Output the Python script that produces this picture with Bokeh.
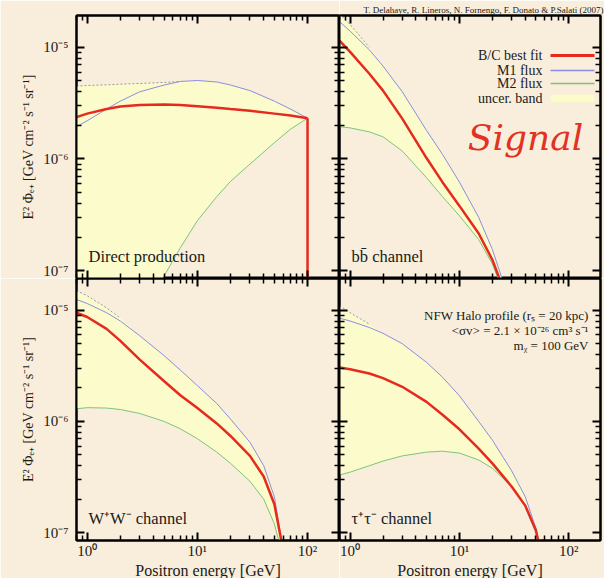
import numpy as np
from bokeh.plotting import figure
from bokeh.layouts import gridplot
from bokeh.models import LogAxis, FixedTicker, Label, BoxAnnotation, Range1d
from bokeh.embed import file_html
from bokeh.resources import INLINE

# ---------------- data ----------------
X_RANGE = (0.8, 195.0)
Y_RANGE = (8.5e-8, 1.93e-5)

x_major = [1, 10, 100]
x_minor = [0.8, 0.9, 2, 3, 4, 5, 6, 7, 8, 9, 20, 30, 40, 50, 60, 70, 80, 90]
x_tick_labels = {1: "10⁰", 10: "10¹", 100: "10²"}
y_major = [1e-7, 1e-6, 1e-5]
y_minor = [2e-7, 3e-7, 4e-7, 5e-7, 6e-7, 7e-7, 8e-7, 9e-7,
           2e-6, 3e-6, 4e-6, 5e-6, 6e-6, 7e-6, 8e-6, 9e-6]
y_tick_labels = {1e-7: "10⁻⁷", 1e-6: "10⁻⁶", 1e-5: "10⁻⁵"}

nan = float("nan")

# Direct production
dp_E = [0.8, 1, 1.5, 2, 3, 5, 7, 10, 15, 20, 30, 50, 70, 100]
dp_bc = [2.37e-6, 2.55e-6, 2.8e-6, 2.95e-6, 3.05e-6, 3.08e-6, 3.05e-6, 2.97e-6, 2.88e-6, 2.8e-6, 2.7e-6, 2.55e-6, 2.45e-6, 2.32e-6]
dp_m1 = [1.95e-6, 2.2e-6, 2.8e-6, 3.3e-6, 4.0e-6, 4.6e-6, 4.95e-6, 5.05e-6, 4.9e-6, 4.6e-6, 4.1e-6, 3.3e-6, 2.8e-6, 2.32e-6]
dp_m2 = [1e-9, 2e-9, 5e-9, 1e-8, 3e-8, 9e-8, 1.6e-7, 2.8e-7, 4.6e-7, 6.3e-7, 9e-7, 1.4e-6, 1.85e-6, 2.32e-6]
dp_up = [4.5e-6, 4.55e-6, 4.62e-6, 4.68e-6, 4.75e-6, 4.85e-6, 4.95e-6, nan, nan, nan, nan, nan, nan, nan]

# b bbar channel
bb_E = [0.8, 1, 1.5, 2, 3, 5, 7, 10, 15, 20, 25, 30]
bb_bc = [1.15e-5, 9.1e-6, 5.8e-6, 4.1e-6, 2.3e-6, 1.02e-6, 6.2e-7, 3.8e-7, 2.15e-7, 1.25e-7, 7e-8, 3.5e-8]
bb_m1 = [1.7e-5, 1.4e-5, 9.5e-6, 6.8e-6, 4.0e-6, 1.8e-6, 1.1e-6, 6.2e-7, 3.0e-7, 1.55e-7, 8e-8, 3.8e-8]
bb_m2 = [1.95e-6, 1.9e-6, 1.75e-6, 1.58e-6, 1.18e-6, 6.8e-7, 4.6e-7, 3.1e-7, 1.9e-7, 1.15e-7, 6.5e-8, 3.2e-8]
bb_up = [2.0e-5, 1.6e-5, 1.0e-5, nan, nan, nan, nan, nan, nan, nan, nan, nan]

# W+W- channel
ww_E = [0.8, 1, 1.5, 2, 3, 5, 7, 10, 15, 20, 30, 40, 50, 60]
ww_bc = [9.5e-6, 8.7e-6, 6.8e-6, 5.3e-6, 3.6e-6, 2.3e-6, 1.72e-6, 1.32e-6, 9.6e-7, 7.4e-7, 4.9e-7, 3.2e-7, 1.8e-7, 7e-8]
ww_m1 = [1.25e-5, 1.15e-5, 9.5e-6, 8.0e-6, 5.9e-6, 3.9e-6, 2.9e-6, 2.1e-6, 1.45e-6, 1.05e-6, 6.5e-7, 4e-7, 2.1e-7, 7e-8]
ww_m2 = [1.3e-6, 1.33e-6, 1.32e-6, 1.28e-6, 1.18e-6, 1.0e-6, 8.6e-7, 7e-7, 5.3e-7, 4.2e-7, 2.9e-7, 2.0e-7, 1.2e-7, 6e-8]
ww_up = [1.5e-5, 1.35e-5, 1.05e-5, 8.5e-6, nan, nan, nan, nan, nan, nan, nan, nan, nan, nan]

# tau+tau- channel
tt_E = [0.8, 1, 1.5, 2, 3, 5, 7, 10, 15, 20, 30, 40, 50, 55]
tt_bc = [3.05e-6, 2.95e-6, 2.7e-6, 2.45e-6, 2.05e-6, 1.5e-6, 1.15e-6, 8.5e-7, 5.7e-7, 4.2e-7, 2.6e-7, 1.75e-7, 1.05e-7, 7e-8]
tt_m1 = [8.5e-6, 8.0e-6, 7.0e-6, 6.2e-6, 5.0e-6, 3.4e-6, 2.5e-6, 1.7e-6, 1.0e-6, 6.8e-7, 3.6e-7, 2.1e-7, 1.1e-7, 7e-8]
tt_m2 = [3.3e-7, 3.5e-7, 4.0e-7, 4.4e-7, 4.9e-7, 5.3e-7, 5.4e-7, 5.2e-7, 4.5e-7, 3.8e-7, 2.6e-7, 1.7e-7, 1.0e-7, 6.5e-8]
tt_up = [1.1e-5, 9.5e-6, 7.5e-6, nan, nan, nan, nan, nan, nan, nan, nan, nan, nan, nan]

panel_titles = ["Direct production", "bb\u0304 channel", "W⁺W⁻ channel", "τ⁺τ⁻ channel"]
legend_labels = ["B/C best fit", "M1 flux", "M2 flux", "uncer. band"]
nfw_lines = ["NFW Halo profile (rₛ = 20 kpc)",
             "<σv> = 2.1 × 10⁻²⁶ cm³ s⁻¹",
             "mᵪ = 100 GeV"]
credit = "T. Delahaye, R. Lineros, N. Fornengo, F. Donato & P.Salati (2007)"
y_title = "E² Φₑ₊ [GeV cm⁻² s⁻¹ sr⁻¹]"
x_title = "Positron energy [GeV]"

# ---------------- style ----------------
BG = "#f8eedb"
BAND = "#fcfbcc"
RED = "#e62a1e"
BLUE = "#8c8ce0"
GREEN = "#7cc47c"
DASH = "#9a9a9a"
FONT = "Liberation Serif"
INK = "#1a1a1a"


def style_axis(ax, major, minor, labels, show):
    ax.ticker = FixedTicker(ticks=major, minor_ticks=minor)
    ax.major_tick_in = 8
    ax.major_tick_out = 0
    ax.minor_tick_in = 5
    ax.minor_tick_out = 0
    ax.major_tick_line_width = 2
    ax.minor_tick_line_width = 1.5
    ax.axis_line_width = 2
    ax.axis_line_color = "black"
    ax.major_tick_line_color = "black"
    ax.minor_tick_line_color = "black"
    if show:
        ax.major_label_overrides = labels
        ax.major_label_text_font = FONT
        ax.major_label_text_font_size = "15px"
        ax.major_label_text_color = INK
        ax.major_label_text_alpha = 1
        ax.axis_label_text_font = FONT
        ax.axis_label_text_font_size = "14px"
        ax.axis_label_text_font_style = "normal"
        ax.axis_label_text_color = INK
    else:
        ax.major_label_text_font_size = "1px"
        ax.major_label_text_alpha = 0
        ax.major_label_standoff = 0


def make_panel(fw, fh, left, right, top, bottom, show_x, show_y, data, title):
    p = figure(x_axis_type="log", y_axis_type="log",
               x_range=Range1d(*X_RANGE), y_range=Range1d(*Y_RANGE),
               frame_width=fw, frame_height=fh,
               min_border_left=left, min_border_right=right,
               min_border_top=top, min_border_bottom=bottom,
               output_backend="svg", toolbar_location=None,
               background_fill_color=BG, border_fill_color=BG,
               outline_line_color="black", outline_line_width=2)
    p.grid.visible = False
    p.add_layout(LogAxis(), "above")
    p.add_layout(LogAxis(), "right")
    for ax in p.xaxis:
        style_axis(ax, x_major, x_minor, x_tick_labels, False)
    for ax in p.yaxis:
        style_axis(ax, y_major, y_minor, y_tick_labels, False)
    if show_x:
        bx = p.below[0]
        style_axis(bx, x_major, x_minor, x_tick_labels, True)
        bx.major_label_standoff = 2
        bx.axis_label = x_title
        bx.axis_label_standoff = 0
        bx.axis_label_text_font_size = "16px"
    if show_y:
        ly = p.left[0]
        style_axis(ly, y_major, y_minor, y_tick_labels, True)
        ly.major_label_standoff = 8
        ly.axis_label = y_title
        ly.axis_label_standoff = 4

    E, bc, m1, m2, up = data
    upper = np.fmax(np.array(m1, dtype=float), np.array(up, dtype=float))
    p.varea(x=E, y1=m2, y2=upper, color=BAND)
    p.line(E, up, line_color=DASH, line_width=1, line_dash="2 2")
    p.line(E, m1, line_color=BLUE, line_width=1)
    p.line(E, m2, line_color=GREEN, line_width=1)
    p.line(E, bc, line_color=RED, line_width=2.5)

    p.add_layout(Label(x=12, y=22, x_units="screen", y_units="screen", text=title,
                       text_font=FONT, text_font_size="16.5px", text_color=INK,
                       text_baseline="middle", text_align="left"))
    return p


tl = make_panel(263, 263, 76, 0, 15, 0, False, True, (dp_E, dp_bc, dp_m1, dp_m2, dp_up), panel_titles[0])
tr = make_panel(261, 263, 0, 4, 15, 0, False, False, (bb_E, bb_bc, bb_m1, bb_m2, bb_up), panel_titles[1])
bl = make_panel(263, 262, 76, 0, 0, 38, True, True, (ww_E, ww_bc, ww_m1, ww_m2, ww_up), panel_titles[2])
br = make_panel(261, 262, 0, 4, 0, 38, True, False, (tt_E, tt_bc, tt_m1, tt_m2, tt_up), panel_titles[3])

# vertical drop of the direct-production line at its endpoint
tl.segment(x0=dp_E[-1], y0=dp_bc[-1], x1=dp_E[-1], y1=Y_RANGE[0], line_color=RED, line_width=2.5)

# credit line above the top-right panel
tr.title.text = credit
tr.title.align = "right"
tr.title.text_font = FONT
tr.title.text_font_size = "9px"
tr.title.text_font_style = "normal"
tr.title.text_color = INK
tr.title.standoff = 1
tr.title.offset = -3

# legend (top-right panel)
leg_y = [223, 208, 195, 180]
leg_colors = [RED, BLUE, GREEN]
leg_widths = [3, 1.5, 1.5]
for i, lab in enumerate(legend_labels):
    tr.add_layout(Label(x=203, y=leg_y[i], x_units="screen", y_units="screen", text=lab,
                        text_font=FONT, text_font_size="14px", text_color=INK,
                        text_baseline="middle", text_align="right"))
for i, c in enumerate(leg_colors):
    h = leg_widths[i] / 2
    tr.add_layout(BoxAnnotation(left=211, right=255, bottom=leg_y[i] - h, top=leg_y[i] + h,
                                left_units="screen", right_units="screen",
                                bottom_units="screen", top_units="screen",
                                fill_color=c, fill_alpha=1, line_alpha=0))
tr.add_layout(BoxAnnotation(left=211, right=255, bottom=leg_y[3] - 4, top=leg_y[3] + 4,
                            left_units="screen", right_units="screen",
                            bottom_units="screen", top_units="screen",
                            fill_color=BAND, fill_alpha=1, line_color="#e8e6c0", line_width=0.5))

tr.add_layout(Label(x=186, y=141, x_units="screen", y_units="screen", text="Signal",
                    text_font="DejaVu Serif", text_font_style="italic", text_font_size="36px",
                    text_color="#e23222", text_align="center", text_baseline="middle"))

nfw_y = [225, 210, 195]
for i, t in enumerate(nfw_lines):
    br.add_layout(Label(x=249, y=nfw_y[i], x_units="screen", y_units="screen", text=t,
                        text_font=FONT, text_font_size="13px", text_color=INK,
                        text_align="right", text_baseline="middle"))

grid = gridplot([[tl, tr], [bl, br]], toolbar_location=None)

open("out.html", "w").write(file_html(grid, INLINE))
